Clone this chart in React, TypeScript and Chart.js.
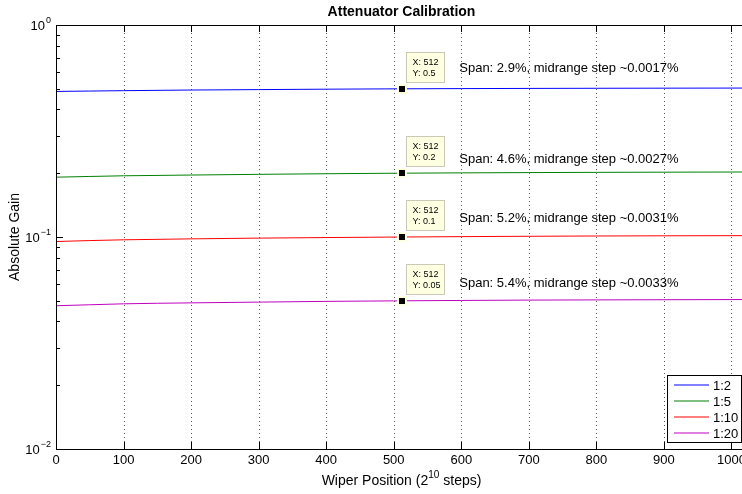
import React, { useEffect, useRef } from 'react';
import { Chart, registerables } from 'chart.js';

Chart.register(...registerables);

// ---- data ----
const wiperPositions = [0, 50, 100, 200, 300, 400, 512, 600, 700, 800, 900, 1023];
const gain1to2 = [0.486, 0.488, 0.49, 0.4935, 0.4958, 0.498, 0.5, 0.5012, 0.5022, 0.503, 0.5036, 0.5042];
const gain1to5 = [0.1915, 0.193, 0.1944, 0.196, 0.1975, 0.1988, 0.2, 0.2007, 0.2013, 0.2018, 0.2022, 0.2026];
const gain1to10 = [0.0952, 0.0962, 0.097, 0.098, 0.0988, 0.0994, 0.1, 0.1004, 0.1008, 0.1011, 0.1013, 0.1015];
const gain1to20 = [0.0474, 0.0479, 0.0484, 0.0489, 0.0493, 0.0497, 0.05, 0.0502, 0.0504, 0.0505, 0.0506, 0.0507];
const seriesLabels = ['1:2', '1:5', '1:10', '1:20'];
const seriesColors = ['#0000ff', '#008000', '#ff0000', '#bf00bf'];

const xTicks = [0, 100, 200, 300, 400, 500, 600, 700, 800, 900, 1000];
const yDecades = [1, 0.1, 0.01];
const yDecadeExponents = ['0', '\u22121', '\u22122'];
const yMinorTicks = [0.02, 0.03, 0.04, 0.05, 0.06, 0.07, 0.08, 0.09, 0.2, 0.3, 0.4, 0.5, 0.6, 0.7, 0.8, 0.9];

const tipX = 512;
const tipY = [0.5, 0.2, 0.1, 0.05];
const tipYLabels = ['0.5', '0.2', '0.1', '0.05'];

const annotationX = 597;
const annotationY = [0.625, 0.233, 0.1225, 0.0605];
const annotationTexts = [
  'Span: 2.9%, midrange step ~0.0017%',
  'Span: 4.6%, midrange step ~0.0027%',
  'Span: 5.2%, midrange step ~0.0031%',
  'Span: 5.4%, midrange step ~0.0033%',
];

const titleText = 'Attenuator Calibration';
const yLabelText = 'Absolute Gain';
const xLabelParts = ['Wiper Position (2', '10', ' steps)'];

const FONT = "'Liberation Sans', Arial, Helvetica, sans-serif";

const decorPlugin = {
  id: 'matlabDecor',
  beforeDatasetsDraw(chart: any) {
    const { ctx, chartArea, scales } = chart;
    const xs = scales.x;
    ctx.save();
    ctx.strokeStyle = 'rgba(0,0,0,0.65)';
    ctx.lineWidth = 1;
    ctx.setLineDash([1, 3]);
    xTicks.forEach((t) => {
      if (t === 0) return;
      const px = Math.round(xs.getPixelForValue(t)) + 0.5;
      ctx.beginPath();
      ctx.moveTo(px, chartArea.top);
      ctx.lineTo(px, chartArea.bottom);
      ctx.stroke();
    });
    ctx.restore();
  },
  afterDatasetsDraw(chart: any) {
    const { ctx, chartArea, scales } = chart;
    const xs = scales.x;
    const ys = scales.y;
    const L = chartArea.left;
    const R = chartArea.right;
    const T = chartArea.top;
    const B = chartArea.bottom;
    ctx.save();

    // frame
    ctx.strokeStyle = '#000';
    ctx.lineWidth = 1;
    ctx.setLineDash([]);
    ctx.beginPath();
    ctx.moveTo(Math.round(L) + 0.5, Math.round(T) + 0.5);
    ctx.lineTo(Math.round(R) + 0.5, Math.round(T) + 0.5);
    ctx.moveTo(Math.round(L) + 0.5, Math.round(T) + 0.5);
    ctx.lineTo(Math.round(L) + 0.5, Math.round(B) + 0.5);
    ctx.lineTo(Math.round(R) + 0.5, Math.round(B) + 0.5);
    ctx.lineTo(Math.round(R) + 0.5, Math.round(T) + 0.5);
    ctx.stroke();

    // x ticks (bottom and top)
    ctx.beginPath();
    xTicks.forEach((t) => {
      const px = Math.round(xs.getPixelForValue(t)) + 0.5;
      ctx.moveTo(px, Math.round(B));
      ctx.lineTo(px, Math.round(B) - 7);
      ctx.moveTo(px, Math.round(T));
      ctx.lineTo(px, Math.round(T) + 7);
    });
    // y ticks
    yDecades.forEach((v) => {
      const py = Math.round(ys.getPixelForValue(v)) + 0.5;
      ctx.moveTo(Math.round(L), py);
      ctx.lineTo(Math.round(L) + 7, py);
    });
    yMinorTicks.forEach((v) => {
      const py = Math.round(ys.getPixelForValue(v)) + 0.5;
      ctx.moveTo(Math.round(L), py);
      ctx.lineTo(Math.round(L) + 4, py);
    });
    ctx.stroke();

    // y tick labels with superscripts
    ctx.fillStyle = '#000';
    yDecades.forEach((v, i) => {
      const py = ys.getPixelForValue(v);
      ctx.font = `9px ${FONT}`;
      ctx.textAlign = 'right';
      ctx.textBaseline = 'alphabetic';
      const supW = ctx.measureText(yDecadeExponents[i]).width;
      ctx.fillText(yDecadeExponents[i], 51, py - 2);
      ctx.font = `13px ${FONT}`;
      ctx.fillText('10', 51 - supW - 1, py + 5);
    });

    // datatips
    tipY.forEach((v, i) => {
      const px = xs.getPixelForValue(tipX);
      const py = ys.getPixelForValue(v);
      const bx = Math.round(px) + 4.5;
      const by = Math.round(py) - 36.5;
      ctx.fillStyle = '#ffffe1';
      ctx.strokeStyle = '#c9c9b5';
      ctx.fillRect(bx, by, 38, 30);
      ctx.strokeRect(bx, by, 38, 30);
      ctx.fillStyle = '#000';
      ctx.font = `9px ${FONT}`;
      ctx.textAlign = 'left';
      ctx.textBaseline = 'middle';
      ctx.fillText(`X: ${tipX}`, bx + 6, by + 10.5);
      ctx.fillText(`Y: ${tipYLabels[i]}`, bx + 6, by + 21.5);
      // marker
      ctx.fillStyle = '#ffffe1';
      ctx.fillRect(Math.round(px) - 5, Math.round(py) - 5, 10, 10);
      ctx.fillStyle = '#000';
      ctx.fillRect(Math.round(px) - 3, Math.round(py) - 3, 6, 6);
    });

    // annotations
    ctx.font = `13px ${FONT}`;
    ctx.textAlign = 'left';
    ctx.textBaseline = 'middle';
    ctx.fillStyle = '#000';
    annotationTexts.forEach((txt, i) => {
      ctx.fillText(txt, xs.getPixelForValue(annotationX), ys.getPixelForValue(annotationY[i]));
    });

    // legend
    const lx = 667.5, ly = 375.5, lw = 74, lh = 67;
    ctx.fillStyle = '#fff';
    ctx.fillRect(lx, ly, lw, lh);
    ctx.strokeStyle = '#000';
    ctx.lineWidth = 1;
    ctx.strokeRect(lx, ly, lw, lh);
    const rows = [385, 401, 417, 433];
    seriesLabels.forEach((lab, i) => {
      ctx.strokeStyle = seriesColors[i];
      ctx.lineWidth = 1.2;
      ctx.beginPath();
      ctx.moveTo(674, rows[i]);
      ctx.lineTo(709, rows[i]);
      ctx.stroke();
      ctx.fillStyle = '#000';
      ctx.font = `13px ${FONT}`;
      ctx.textAlign = 'left';
      ctx.textBaseline = 'middle';
      ctx.fillText(lab, 713, rows[i] + 1);
    });

    // title
    const cx = (L + R) / 2;
    ctx.fillStyle = '#000';
    ctx.font = `bold 14px ${FONT}`;
    ctx.textAlign = 'center';
    ctx.textBaseline = 'middle';
    ctx.fillText(titleText, cx, 12);

    // x label
    ctx.font = `14px ${FONT}`;
    const w0 = ctx.measureText(xLabelParts[0]).width;
    const w2 = ctx.measureText(xLabelParts[2]).width;
    ctx.font = `10px ${FONT}`;
    const w1 = ctx.measureText(xLabelParts[1]).width;
    let sx = cx - (w0 + w1 + w2) / 2;
    ctx.textAlign = 'left';
    ctx.textBaseline = 'alphabetic';
    ctx.font = `14px ${FONT}`;
    ctx.fillText(xLabelParts[0], sx, 485);
    sx += w0;
    ctx.font = `10px ${FONT}`;
    ctx.fillText(xLabelParts[1], sx, 478);
    sx += w1;
    ctx.font = `14px ${FONT}`;
    ctx.fillText(xLabelParts[2], sx, 485);

    // y label
    ctx.translate(15, (T + B) / 2);
    ctx.rotate(-Math.PI / 2);
    ctx.textAlign = 'center';
    ctx.textBaseline = 'middle';
    ctx.font = `14px ${FONT}`;
    ctx.fillText(yLabelText, 0, 0);

    ctx.restore();
  },
};

export default function App() {
  const canvasRef = useRef<HTMLCanvasElement | null>(null);

  useEffect(() => {
    const canvas = canvasRef.current;
    if (!canvas) return;
    const allSeries = [gain1to2, gain1to5, gain1to10, gain1to20];
    const chart = new Chart(canvas, {
      type: 'line',
      data: {
        datasets: allSeries.map((s, i) => ({
          label: seriesLabels[i],
          data: wiperPositions.map((x, j) => ({ x, y: s[j] })),
          borderColor: seriesColors[i],
          backgroundColor: seriesColors[i],
          borderWidth: 1,
          pointRadius: 0,
          cubicInterpolationMode: 'monotone' as const,
          fill: false,
        })),
      },
      options: {
        animation: false,
        responsive: false,
        events: [],
        layout: { padding: { top: 25, right: 23, left: 0, bottom: 0 } },
        plugins: {
          legend: { display: false },
          title: { display: false },
          tooltip: { enabled: false },
        },
        scales: {
          x: {
            type: 'linear',
            min: 0,
            max: 1023,
            afterBuildTicks: (scale: any) => {
              scale.ticks = xTicks.map((v) => ({ value: v }));
            },
            afterFit: (scale: any) => {
              scale.height = 45;
            },
            grid: { display: false, drawTicks: false },
            border: { display: false },
            ticks: {
              autoSkip: false,
              maxRotation: 0,
              padding: 4,
              color: '#000',
              font: { family: FONT, size: 13 },
              callback: (v: any) => String(v),
            },
          },
          y: {
            type: 'logarithmic',
            min: 0.01,
            max: 1,
            afterFit: (scale: any) => {
              scale.width = 56;
            },
            grid: { display: false, drawTicks: false },
            border: { display: false },
            ticks: { display: false },
          },
        },
      },
      plugins: [decorPlugin],
    });
    return () => chart.destroy();
  }, []);

  return (
    <div
      style={{
        position: 'fixed',
        left: 0,
        top: 0,
        width: 742,
        height: 494,
        overflow: 'hidden',
        background: '#fff',
      }}
    >
      <canvas ref={canvasRef} width={770} height={494} style={{ display: 'block' }} />
    </div>
  );
}
